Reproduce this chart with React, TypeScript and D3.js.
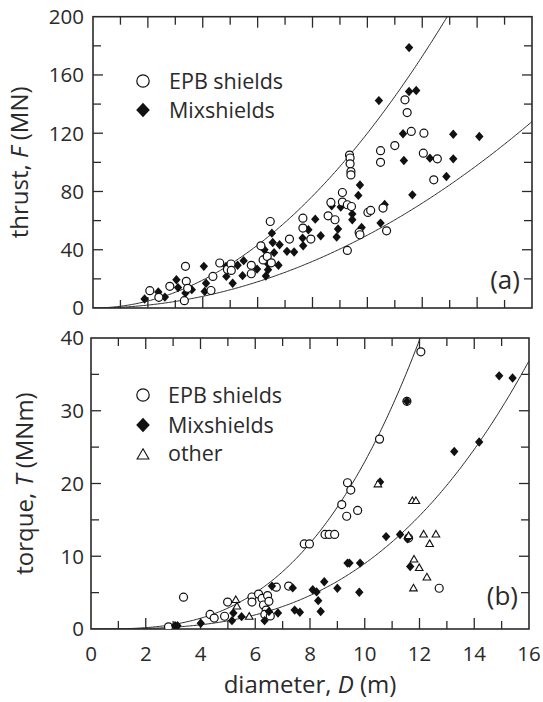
import React from "react";
import * as d3 from "d3";

// ---- data ----
const epbThrust: [number, number][] = [
  [2.07, 11.9], [2.4, 7.3], [2.8, 14.9], [3.37, 28.6], [3.4, 18.3], [3.33, 5], [3.45, 13.5],
  [4.3, 12], [4.37, 21.7], [4.62, 30.9], [4.9, 26.5], [5.03, 30.2], [5.04, 25.8], [5.77, 29.3],
  [5.77, 23.5], [6.12, 42.7], [6.2, 33], [6.35, 35.4], [6.46, 59.4], [6.5, 31], [7.16, 47.3],
  [7.65, 61.7], [7.65, 54.9], [7.94, 47.3], [8.57, 63.3], [8.67, 72.5], [8.82, 60.6], [9.09, 79.3],
  [9.09, 72.7], [9.27, 70.9], [9.42, 69.7], [9.35, 105], [9.37, 103], [9.37, 99], [9.4, 93.7],
  [9.4, 91.4], [9.7, 51.9], [9.73, 50.3], [9.27, 39.5], [10.02, 65.6], [10.12, 67], [10.57, 68.6],
  [10.7, 53], [10.48, 108], [10.48, 100], [11.0, 111.5], [11.37, 142.9], [11.45, 134.2],
  [11.6, 121.2], [12.06, 120], [12.04, 106.3], [12.55, 102.4], [12.42, 88],
];
const mixThrust: [number, number][] = [
  [1.88, 6.2], [2.38, 11], [2.62, 7.5], [3.04, 19.4], [3.1, 14], [3.37, 10.3], [3.6, 12.6],
  [4.04, 28.6], [4.12, 17], [4.07, 11.4], [4.85, 28.6], [4.86, 21.7], [5.09, 17], [5.27, 29.3],
  [5.49, 32.5], [5.45, 22.2], [5.98, 26.7], [6.25, 40], [6.3, 35.4], [6.35, 30.9], [6.38, 26.3],
  [6.3, 22], [6.52, 51.4], [6.55, 45], [6.6, 38], [6.76, 29.3], [6.8, 43.4], [7.07, 38.9],
  [7.33, 38.4], [7.64, 48], [7.66, 42.7], [7.85, 53.7], [8.1, 61], [8.3, 49.6], [8.7, 70.2],
  [8.93, 54.2], [8.88, 48.7], [9.03, 69.3], [9.45, 64.5], [9.45, 60.6], [9.67, 77.3], [9.73, 84.4],
  [9.79, 55.3], [10.48, 58.3], [10.63, 71.1], [10.42, 142.4], [11.3, 119.6], [11.33, 101.3],
  [11.52, 178.8], [11.52, 148.6], [11.78, 149.3], [11.64, 77.7], [12.28, 102.9], [12.88, 90.3],
  [13.13, 119.3], [13.13, 102.4], [14.08, 117.7],
];
const epbTorque: [number, number][] = [
  [2.83, 0.3], [3.38, 4.37], [4.35, 2.0], [4.5, 1.5], [4.88, 1.75], [4.99, 3.7], [5.88, 4.4],
  [5.88, 3.7], [6.12, 4.8], [6.25, 4.2], [6.3, 3.3], [6.4, 2.6], [6.45, 4.6], [6.5, 3.8],
  [6.35, 2.0], [6.55, 1.8], [6.77, 5.75], [7.22, 5.9], [7.79, 11.7], [7.98, 11.7], [8.55, 13],
  [8.7, 13], [8.9, 13], [9.16, 17.1], [9.34, 15.5], [9.37, 20.1], [9.49, 19.1], [9.74, 16.3],
  [10.54, 26.1], [11.54, 31.3], [11.6, 12.5], [12.05, 38.1], [12.72, 5.6],
];
const mixTorque: [number, number][] = [
  [3.07, 0.46], [3.16, 0.46], [4.01, 0.8], [5.15, 1.15], [5.2, 2.2], [5.5, 1.7], [6.34, 1.15],
  [6.5, 2.4], [6.61, 5.9], [6.83, 2.2], [7.37, 5.65], [7.44, 2.6], [7.63, 2.3], [8.1, 5.4],
  [8.24, 5.1], [8.3, 3.9], [8.39, 2.4], [8.52, 6.5], [9.0, 5.6], [9.37, 9.06], [9.44, 9.06],
  [9.83, 9.06], [9.8, 5.06], [10.56, 20.2], [10.78, 12.7], [11.29, 13], [11.54, 31.3],
  [11.56, 12.4], [11.66, 8.6], [13.27, 24.4], [14.18, 25.7], [14.91, 34.8], [15.4, 34.5],
];
const otherTorque: [number, number][] = [
  [5.29, 4.0], [5.33, 3.1], [5.78, 1.7], [10.48, 19.9], [11.74, 17.6], [11.87, 17.6],
  [11.6, 12.8], [12.15, 13], [12.6, 13], [12.37, 11.7], [11.8, 9.56], [11.99, 8.4],
  [12.27, 7.1], [11.78, 5.6],
];
const thrustCoef = [0.5, 1.2]; // F = k * D^2
const torqueCoef = [0.009, 0.023]; // T = a * D^3
const xTickLabels = [0, 2, 4, 6, 8, 10, 12, 14, 16];
const thrustTickLabels = [0, 40, 80, 120, 160, 200];
const torqueTickLabels = [0, 10, 20, 30, 40];

const FONT = "'Open Sans', 'DejaVu Sans', sans-serif";
const INK = "#2a2a2a";

const circle = (x: number, y: number, r: number, key: any) => (
  <circle key={key} cx={x} cy={y} r={r} fill="#fff" stroke="#111" strokeWidth={1.2} />
);
const diamond = (x: number, y: number, w: number, h: number, key: any) => (
  <path key={key} d={`M${x},${y - h}L${x + w},${y}L${x},${y + h}L${x - w},${y}Z`} fill="#111" />
);
const triangle = (x: number, y: number, s: number, key: any) => (
  <path
    key={key}
    d={`M${x},${y - s}L${x + s * 0.95},${y + s * 0.65}L${x - s * 0.95},${y + s * 0.65}Z`}
    fill="#fff"
    stroke="#111"
    strokeWidth={1.1}
  />
);

function Frame({ x, y, ymax, ystep, ymajor, id }: any) {
  const [x0, x1] = x.range();
  const [y0, y1] = y.range(); // y0 bottom, y1 top
  const xt = d3.range(1, 16, 1);
  const yt = d3.range(ystep, ymax, ystep);
  return (
    <g>
      <clipPath id={id}>
        <rect x={x0} y={y1} width={x1 - x0} height={y0 - y1} />
      </clipPath>
      {xt.map((t) => {
        const L = t % 2 === 0 ? 11 : 8;
        return (
          <g key={"xt" + t} stroke={INK} strokeWidth={1.3}>
            <line x1={x(t)} x2={x(t)} y1={y0} y2={y0 - L} />
            <line x1={x(t)} x2={x(t)} y1={y1} y2={y1 + L} />
          </g>
        );
      })}
      {yt.map((t: number) => {
        const L = t % ymajor === 0 ? 10 : 8;
        return (
          <g key={"yt" + t} stroke={INK} strokeWidth={1.3}>
            <line x1={x0} x2={x0 + L} y1={y(t)} y2={y(t)} />
            <line x1={x1} x2={x1 - L} y1={y(t)} y2={y(t)} />
          </g>
        );
      })}
      <rect x={x0} y={y1} width={x1 - x0} height={y0 - y1} fill="none" stroke={INK} strokeWidth={1.6} />
    </g>
  );
}

export default function App() {
  const xTop = d3.scaleLinear().domain([0, 16]).range([93, 532]);
  const yTop = d3.scaleLinear().domain([0, 200]).range([308, 16.7]);
  const xBot = d3.scaleLinear().domain([0, 16]).range([91, 529]);
  const yBot = d3.scaleLinear().domain([0, 40]).range([629, 338]);

  const Ds = d3.range(0, 16.001, 0.05);
  const thrustPaths = thrustCoef.map((k) =>
    d3.line<number>().x((d) => xTop(d)).y((d) => yTop(Math.min(k * d * d, 240)))(Ds)
  );
  const torquePaths = torqueCoef.map((a) =>
    d3.line<number>().x((d) => xBot(d)).y((d) => yBot(Math.min(a * d * d * d, 48)))(Ds)
  );

  return (
    <svg
      width={543}
      height={702}
      style={{ position: "absolute", left: 0, top: 0, background: "#fff" }}
      fontFamily={FONT}
    >
      <rect width={543} height={702} fill="#fff" />
      {/* panel (a) */}
      <Frame x={xTop} y={yTop} ymax={200} ystep={20} ymajor={40} id="clipA" />
      <g clipPath="url(#clipA)">
        {thrustPaths.map((p, i) => (
          <path key={i} d={p || ""} fill="none" stroke={INK} strokeWidth={1} />
        ))}
        {mixThrust.map((d, i) => diamond(xTop(d[0]), yTop(d[1]), 4.2, 4.7, "mt" + i))}
        {epbThrust.map((d, i) => circle(xTop(d[0]), yTop(d[1]), 4, "et" + i))}
      </g>
      {thrustTickLabels.map((t) => (
        <text key={"tl" + t} x={84} y={yTop(t)} dy="0.36em" textAnchor="end" fontSize={20.5} fill={INK}>
          {t}
        </text>
      ))}
      <text
        transform={`translate(28,${(yTop(0) + yTop(200)) / 2}) rotate(-90)`}
        textAnchor="middle"
        fontSize={24}
        fill={INK}
      >
        thrust, <tspan fontStyle="italic">F</tspan> (MN)
      </text>
      {circle(143, 81, 6.2, "lg1")}
      <text x={169} y={88.5} fontSize={21.5} fill={INK}>EPB shields</text>
      {diamond(143, 110, 6.8, 7.2, "lg2")}
      <text x={169} y={117.5} fontSize={21.5} fill={INK}>Mixshields</text>
      <text x={520} y={289} textAnchor="end" fontSize={26} fill={INK}>(a)</text>

      {/* panel (b) */}
      <Frame x={xBot} y={yBot} ymax={40} ystep={5} ymajor={10} id="clipB" />
      <g clipPath="url(#clipB)">
        {torquePaths.map((p, i) => (
          <path key={i} d={p || ""} fill="none" stroke={INK} strokeWidth={1} />
        ))}
        {epbTorque.map((d, i) => circle(xBot(d[0]), yBot(d[1]), 4, "eq" + i))}
        {mixTorque.map((d, i) => diamond(xBot(d[0]), yBot(d[1]), 4.2, 4.7, "mq" + i))}
        {otherTorque.map((d, i) => triangle(xBot(d[0]), yBot(d[1]), 4, "oq" + i))}
      </g>
      {torqueTickLabels.map((t) => (
        <text key={"ql" + t} x={84} y={yBot(t)} dy="0.36em" textAnchor="end" fontSize={20.5} fill={INK}>
          {t}
        </text>
      ))}
      <text
        transform={`translate(33,${(yBot(0) + yBot(40)) / 2}) rotate(-90)`}
        textAnchor="middle"
        fontSize={24}
        fill={INK}
      >
        torque, <tspan fontStyle="italic">T</tspan> (MNm)
      </text>
      {circle(143, 395, 6.2, "lg3")}
      <text x={168} y={402.5} fontSize={21.5} fill={INK}>EPB shields</text>
      {diamond(143, 425, 6.8, 7.2, "lg4")}
      <text x={168} y={432.5} fontSize={21.5} fill={INK}>Mixshields</text>
      {triangle(143, 455, 6.2, "lg5")}
      <text x={168} y={461} fontSize={21.5} fill={INK}>other</text>
      <text x={518} y={605} textAnchor="end" fontSize={26} fill={INK}>(b)</text>

      {xTickLabels.map((t) => (
        <text key={"xl" + t} x={xBot(t)} y={661} textAnchor="middle" fontSize={20.5} fill={INK}>
          {t}
        </text>
      ))}
      <text x={310} y={693} textAnchor="middle" fontSize={24} fill={INK}>
        diameter, <tspan fontStyle="italic">D</tspan> (m)
      </text>
    </svg>
  );
}
